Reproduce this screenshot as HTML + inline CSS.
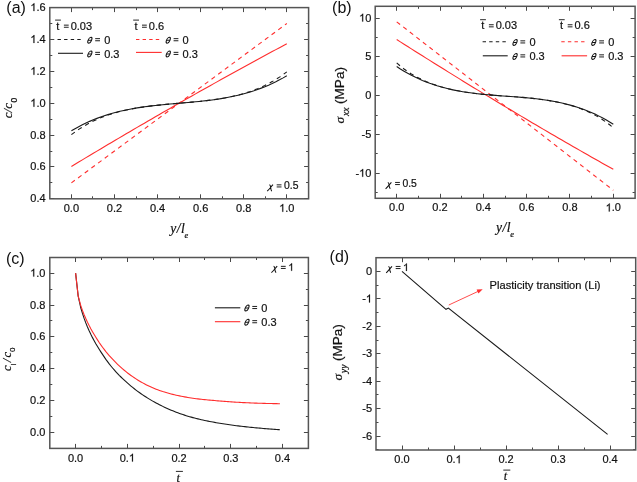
<!DOCTYPE html>
<html><head><meta charset="utf-8"><style>html,body{margin:0;padding:0;background:#fff;overflow:hidden}svg{display:block;will-change:transform}</style></head><body>
<svg width="637" height="482" viewBox="0 0 637 482" font-family='"Liberation Sans", sans-serif' font-size="11" fill="#111" style="font-kerning:none"><style>text{stroke:#111;stroke-width:0.2px}</style>
<rect width="637" height="482" fill="#fff"/>
<path d="M71.50 198.80v-4.5M71.50 7.60v4.5M114.50 198.80v-4.5M114.50 7.60v4.5M157.50 198.80v-4.5M157.50 7.60v4.5M200.50 198.80v-4.5M200.50 7.60v4.5M243.50 198.80v-4.5M243.50 7.60v4.5M286.50 198.80v-4.5M286.50 7.60v4.5M92.50 198.80v-2.5M92.50 7.60v2.5M136.50 198.80v-2.5M136.50 7.60v2.5M179.50 198.80v-2.5M179.50 7.60v2.5M222.50 198.80v-2.5M222.50 7.60v2.5M265.50 198.80v-2.5M265.50 7.60v2.5M49.80 198.50h4.5M308.60 198.50h-4.5M49.80 166.50h4.5M308.60 166.50h-4.5M49.80 135.50h4.5M308.60 135.50h-4.5M49.80 103.50h4.5M308.60 103.50h-4.5M49.80 71.50h4.5M308.60 71.50h-4.5M49.80 39.50h4.5M308.60 39.50h-4.5M49.80 7.50h4.5M308.60 7.50h-4.5M49.80 182.50h2.5M308.60 182.50h-2.5M49.80 151.50h2.5M308.60 151.50h-2.5M49.80 119.50h2.5M308.60 119.50h-2.5M49.80 87.50h2.5M308.60 87.50h-2.5M49.80 55.50h2.5M308.60 55.50h-2.5M49.80 23.50h2.5M308.60 23.50h-2.5" stroke="#484848" stroke-width="1.0" fill="none"/>
<rect x="49.80" y="7.60" width="258.80" height="191.20" stroke="#555" stroke-width="1.5" fill="none"/>
<text x="63.75" y="211.80" font-size="11">0.0</text>
<text x="106.83" y="211.80" font-size="11">0.2</text>
<text x="149.91" y="211.80" font-size="11">0.4</text>
<text x="192.99" y="211.80" font-size="11">0.6</text>
<text x="236.07" y="211.80" font-size="11">0.8</text>
<text x="279.15" y="211.80" font-size="11"> .0</text>
<path transform="translate(279.15,211.80) scale(0.005371,-0.005371)" d="M763 0H583V1147Q518 1085 412 1023Q306 961 222 930V1104Q373 1175 486 1276Q599 1377 646 1472H763Z" stroke="#111" stroke-width="0.2" vector-effect="non-scaling-stroke"/>
<text x="30.31" y="202.30" font-size="11">0.4</text>
<text x="30.31" y="170.43" font-size="11">0.6</text>
<text x="30.31" y="138.57" font-size="11">0.8</text>
<text x="30.31" y="106.70" font-size="11"> .0</text>
<path transform="translate(30.31,106.70) scale(0.005371,-0.005371)" d="M763 0H583V1147Q518 1085 412 1023Q306 961 222 930V1104Q373 1175 486 1276Q599 1377 646 1472H763Z" stroke="#111" stroke-width="0.2" vector-effect="non-scaling-stroke"/>
<text x="30.31" y="74.83" font-size="11"> .2</text>
<path transform="translate(30.31,74.83) scale(0.005371,-0.005371)" d="M763 0H583V1147Q518 1085 412 1023Q306 961 222 930V1104Q373 1175 486 1276Q599 1377 646 1472H763Z" stroke="#111" stroke-width="0.2" vector-effect="non-scaling-stroke"/>
<text x="30.31" y="42.97" font-size="11"> .4</text>
<path transform="translate(30.31,42.97) scale(0.005371,-0.005371)" d="M763 0H583V1147Q518 1085 412 1023Q306 961 222 930V1104Q373 1175 486 1276Q599 1377 646 1472H763Z" stroke="#111" stroke-width="0.2" vector-effect="non-scaling-stroke"/>
<text x="30.31" y="11.10" font-size="11"> .6</text>
<path transform="translate(30.31,11.10) scale(0.005371,-0.005371)" d="M763 0H583V1147Q518 1085 412 1023Q306 961 222 930V1104Q373 1175 486 1276Q599 1377 646 1472H763Z" stroke="#111" stroke-width="0.2" vector-effect="non-scaling-stroke"/>
<polyline points="71.40,182.87 286.80,23.53" stroke="#ff2d2d" stroke-width="1.1" fill="none" stroke-dasharray="4.3 4" stroke-linejoin="round"/>
<polyline points="71.40,166.46 75.05,164.25 78.70,162.05 82.35,159.85 86.00,157.65 89.65,155.46 93.31,153.28 96.96,151.10 100.61,148.92 104.26,146.75 107.91,144.58 111.56,142.42 115.21,140.26 118.86,138.11 122.51,135.96 126.16,133.81 129.81,131.67 133.46,129.54 137.12,127.40 140.77,125.28 144.42,123.15 148.07,121.03 151.72,118.92 155.37,116.81 159.02,114.70 162.67,112.60 166.32,110.50 169.97,108.41 173.62,106.32 177.27,104.24 180.93,102.16 184.58,100.09 188.23,98.02 191.88,95.95 195.53,93.89 199.18,91.83 202.83,89.78 206.48,87.73 210.13,85.68 213.78,83.64 217.43,81.61 221.08,79.58 224.74,77.55 228.39,75.53 232.04,73.51 235.69,71.50 239.34,69.49 242.99,67.48 246.64,65.48 250.29,63.49 253.94,61.49 257.59,59.51 261.24,57.52 264.89,55.55 268.55,53.57 272.20,51.60 275.85,49.64 279.50,47.68 283.15,45.72 286.80,43.77" stroke="#ff2d2d" stroke-width="1.1" fill="none" stroke-linejoin="round"/>
<polyline points="71.40,134.67 75.05,131.94 78.70,129.41 82.35,127.07 86.00,124.91 89.65,122.92 93.31,121.08 96.96,119.39 100.61,117.84 104.26,116.41 107.91,115.10 111.56,113.90 115.21,112.81 118.86,111.80 122.51,110.88 126.16,110.05 129.81,109.28 133.46,108.59 137.12,107.95 140.77,107.36 144.42,106.83 148.07,106.34 151.72,105.89 155.37,105.47 159.02,105.08 162.67,104.72 166.32,104.37 169.97,104.04 173.62,103.73 177.27,103.41 180.93,103.10 184.58,102.79 188.23,102.47 191.88,102.14 195.53,101.80 199.18,101.43 202.83,101.04 206.48,100.63 210.13,100.17 213.78,99.68 217.43,99.15 221.08,98.57 224.74,97.93 228.39,97.23 232.04,96.47 235.69,95.63 239.34,94.71 242.99,93.71 246.64,92.61 250.29,91.41 253.94,90.10 257.59,88.68 261.24,87.12 264.89,85.43 268.55,83.60 272.20,81.60 275.85,79.44 279.50,77.11 283.15,74.58 286.80,71.84" stroke="#1a1a1a" stroke-width="1.1" fill="none" stroke-dasharray="4.3 4" stroke-linejoin="round"/>
<polyline points="71.40,130.76 75.05,128.65 78.70,126.66 82.35,124.78 86.00,123.02 89.65,121.37 93.31,119.83 96.96,118.38 100.61,117.03 104.26,115.78 107.91,114.61 111.56,113.52 115.21,112.52 118.86,111.59 122.51,110.73 126.16,109.94 129.81,109.20 133.46,108.53 137.12,107.91 140.77,107.34 144.42,106.82 148.07,106.33 151.72,105.89 155.37,105.47 159.02,105.08 162.67,104.72 166.32,104.37 169.97,104.04 173.62,103.73 177.27,103.41 180.93,103.10 184.58,102.79 188.23,102.47 191.88,102.14 195.53,101.80 199.18,101.43 202.83,101.04 206.48,100.63 210.13,100.18 213.78,99.70 217.43,99.17 221.08,98.60 224.74,97.98 228.39,97.31 232.04,96.58 235.69,95.79 239.34,94.93 242.99,94.00 246.64,92.99 250.29,91.91 253.94,90.74 257.59,89.48 261.24,88.13 264.89,86.69 268.55,85.14 272.20,83.49 275.85,81.73 279.50,79.85 283.15,77.86 286.80,75.75" stroke="#1a1a1a" stroke-width="1.1" fill="none" stroke-linejoin="round"/>
<text x="56.3" y="29.6">t</text>
<path d="M63.90 25.15h4.8M63.90 27.25h4.8" stroke="#111" stroke-width="0.95"/>
<text x="70.70" y="29.60" font-size="11">0.03</text>
<path d="M55.099999999999994 20.10h5.8" stroke="#111" stroke-width="0.9"/>
<text x="134.4" y="29.6">t</text>
<path d="M142.00 25.15h4.8M142.00 27.25h4.8" stroke="#111" stroke-width="0.95"/>
<text x="148.80" y="29.60" font-size="11">0.6</text>
<path d="M133.20000000000002 20.10h5.8" stroke="#111" stroke-width="0.9"/>
<path d="M57.5 39.5H82" stroke="#1a1a1a" stroke-width="1.1" stroke-dasharray="3.4 3.2"/>
<path d="M58 53.3H83" stroke="#1a1a1a" stroke-width="1.1"/>
<path d="M136 39.5H161" stroke="#ff2d2d" stroke-width="1.1" stroke-dasharray="3.4 3.2"/>
<path d="M136 52.4H161.7" stroke="#ff2d2d" stroke-width="1.1"/>
<g transform="translate(89.85,40.20) skewX(-22)" stroke="#111" fill="none" stroke-width="1.05"><ellipse rx="1.75" ry="3.0"/><path d="M-1.75 0H1.75"/></g>
<path d="M95.20 38.65h4.8M95.20 40.75h4.8" stroke="#111" stroke-width="0.95"/>
<text x="104.20" y="43.80" font-size="11">0</text>
<g transform="translate(89.85,53.90) skewX(-22)" stroke="#111" fill="none" stroke-width="1.05"><ellipse rx="1.75" ry="3.0"/><path d="M-1.75 0H1.75"/></g>
<path d="M95.20 52.35h4.8M95.20 54.45h4.8" stroke="#111" stroke-width="0.95"/>
<text x="104.20" y="57.50" font-size="11">0.3</text>
<g transform="translate(168.25,40.20) skewX(-22)" stroke="#111" fill="none" stroke-width="1.05"><ellipse rx="1.75" ry="3.0"/><path d="M-1.75 0H1.75"/></g>
<path d="M173.60 38.65h4.8M173.60 40.75h4.8" stroke="#111" stroke-width="0.95"/>
<text x="182.60" y="43.80" font-size="11">0</text>
<g transform="translate(168.25,53.90) skewX(-22)" stroke="#111" fill="none" stroke-width="1.05"><ellipse rx="1.75" ry="3.0"/><path d="M-1.75 0H1.75"/></g>
<path d="M173.60 52.35h4.8M173.60 54.45h4.8" stroke="#111" stroke-width="0.95"/>
<text x="182.60" y="57.50" font-size="11">0.3</text>
<path transform="translate(266.80,189.30)" d="M0.4 1.9C2.2 0.3 4.2 -2.4 6.2 -4.6M2.6 -4.4C3.4 -4.5 3.7 -3.2 3.9 -1.6C4.1 0.2 4.3 1.6 5.2 1.7" stroke="#111" fill="none" stroke-width="1.05"/>
<path d="M276.70 184.85h4.8M276.70 186.95h4.8" stroke="#111" stroke-width="0.95"/>
<text x="284.00" y="189.30" font-size="10.4">0.5</text>
<path d="M396.50 198.30v-4.5M396.50 6.30v4.5M440.50 198.30v-4.5M440.50 6.30v4.5M483.50 198.30v-4.5M483.50 6.30v4.5M526.50 198.30v-4.5M526.50 6.30v4.5M569.50 198.30v-4.5M569.50 6.30v4.5M613.50 198.30v-4.5M613.50 6.30v4.5M418.50 198.30v-2.5M418.50 6.30v2.5M461.50 198.30v-2.5M461.50 6.30v2.5M505.50 198.30v-2.5M505.50 6.30v2.5M548.50 198.30v-2.5M548.50 6.30v2.5M591.50 198.30v-2.5M591.50 6.30v2.5M375.20 173.50h4.5M635.10 173.50h-4.5M375.20 134.50h4.5M635.10 134.50h-4.5M375.20 95.50h4.5M635.10 95.50h-4.5M375.20 56.50h4.5M635.10 56.50h-4.5M375.20 18.50h4.5M635.10 18.50h-4.5M375.20 192.50h2.5M635.10 192.50h-2.5M375.20 153.50h2.5M635.10 153.50h-2.5M375.20 115.50h2.5M635.10 115.50h-2.5M375.20 76.50h2.5M635.10 76.50h-2.5M375.20 37.50h2.5M635.10 37.50h-2.5" stroke="#484848" stroke-width="1.0" fill="none"/>
<rect x="375.20" y="6.30" width="259.90" height="192.00" stroke="#555" stroke-width="1.5" fill="none"/>
<text x="389.05" y="211.40" font-size="11">0.0</text>
<text x="432.37" y="211.40" font-size="11">0.2</text>
<text x="475.69" y="211.40" font-size="11">0.4</text>
<text x="519.01" y="211.40" font-size="11">0.6</text>
<text x="562.33" y="211.40" font-size="11">0.8</text>
<text x="605.65" y="211.40" font-size="11"> .0</text>
<path transform="translate(605.65,211.40) scale(0.005371,-0.005371)" d="M763 0H583V1147Q518 1085 412 1023Q306 961 222 930V1104Q373 1175 486 1276Q599 1377 646 1472H763Z" stroke="#111" stroke-width="0.2" vector-effect="non-scaling-stroke"/>
<text x="355.40" y="176.80" font-size="11">- 0</text>
<path transform="translate(359.06,176.80) scale(0.005371,-0.005371)" d="M763 0H583V1147Q518 1085 412 1023Q306 961 222 930V1104Q373 1175 486 1276Q599 1377 646 1472H763Z" stroke="#111" stroke-width="0.2" vector-effect="non-scaling-stroke"/>
<text x="361.52" y="138.00" font-size="11">-5</text>
<text x="365.18" y="99.20" font-size="11">0</text>
<text x="365.18" y="60.40" font-size="11">5</text>
<text x="359.06" y="21.60" font-size="11"> 0</text>
<path transform="translate(359.06,21.60) scale(0.005371,-0.005371)" d="M763 0H583V1147Q518 1085 412 1023Q306 961 222 930V1104Q373 1175 486 1276Q599 1377 646 1472H763Z" stroke="#111" stroke-width="0.2" vector-effect="non-scaling-stroke"/>
<polyline points="396.70,21.82 613.30,190.29" stroke="#ff2d2d" stroke-width="1.1" fill="none" stroke-dasharray="4.3 4" stroke-linejoin="round"/>
<polyline points="396.70,39.49 400.37,41.84 404.04,44.17 407.71,46.51 411.38,48.84 415.06,51.16 418.73,53.48 422.40,55.79 426.07,58.10 429.74,60.40 433.41,62.70 437.08,64.99 440.75,67.28 444.43,69.57 448.10,71.85 451.77,74.12 455.44,76.39 459.11,78.65 462.78,80.91 466.45,83.17 470.12,85.42 473.79,87.66 477.47,89.90 481.14,92.14 484.81,94.37 488.48,96.59 492.15,98.82 495.82,101.03 499.49,103.24 503.16,105.45 506.84,107.65 510.51,109.84 514.18,112.04 517.85,114.22 521.52,116.40 525.19,118.58 528.86,120.75 532.53,122.92 536.21,125.08 539.88,127.24 543.55,129.39 547.22,131.54 550.89,133.68 554.56,135.82 558.23,137.95 561.90,140.08 565.57,142.20 569.25,144.32 572.92,146.43 576.59,148.54 580.26,150.64 583.93,152.74 587.60,154.83 591.27,156.92 594.94,159.01 598.62,161.08 602.29,163.16 605.96,165.23 609.63,167.29 613.30,169.35" stroke="#ff2d2d" stroke-width="1.1" fill="none" stroke-linejoin="round"/>
<polyline points="396.70,62.92 400.37,66.08 404.04,68.95 407.71,71.56 411.38,73.93 415.06,76.09 418.73,78.06 422.40,79.86 426.07,81.50 429.74,82.99 433.41,84.36 437.08,85.60 440.75,86.73 444.43,87.77 448.10,88.71 451.77,89.57 455.44,90.35 459.11,91.05 462.78,91.70 466.45,92.28 470.12,92.81 473.79,93.29 477.47,93.72 481.14,94.12 484.81,94.48 488.48,94.82 492.15,95.13 495.82,95.42 499.49,95.70 503.16,95.97 506.84,96.23 510.51,96.50 514.18,96.77 517.85,97.05 521.52,97.35 525.19,97.67 528.86,98.01 532.53,98.38 536.21,98.79 539.88,99.24 543.55,99.74 547.22,100.28 550.89,100.89 554.56,101.55 558.23,102.28 561.90,103.09 565.57,103.98 569.25,104.96 572.92,106.03 576.59,107.22 580.26,108.51 583.93,109.94 587.60,111.51 591.27,113.23 594.94,115.12 598.62,117.20 602.29,119.48 605.96,122.00 609.63,124.78 613.30,127.84" stroke="#1a1a1a" stroke-width="1.1" fill="none" stroke-dasharray="4.3 4" stroke-linejoin="round"/>
<polyline points="396.70,66.57 400.37,68.94 404.04,71.18 407.71,73.28 411.38,75.25 415.06,77.09 418.73,78.80 422.40,80.41 426.07,81.89 429.74,83.28 433.41,84.56 437.08,85.74 440.75,86.83 444.43,87.83 448.10,88.75 451.77,89.59 455.44,90.36 459.11,91.06 462.78,91.70 466.45,92.28 470.12,92.81 473.79,93.29 477.47,93.72 481.14,94.12 484.81,94.48 488.48,94.82 492.15,95.13 495.82,95.42 499.49,95.70 503.16,95.97 506.84,96.23 510.51,96.50 514.18,96.77 517.85,97.05 521.52,97.35 525.19,97.67 528.86,98.01 532.53,98.38 536.21,98.79 539.88,99.24 543.55,99.74 547.22,100.28 550.89,100.88 554.56,101.54 558.23,102.26 561.90,103.05 565.57,103.92 569.25,104.87 572.92,105.90 576.59,107.02 580.26,108.23 583.93,109.54 587.60,110.96 591.27,112.48 594.94,114.12 598.62,115.88 602.29,117.76 605.96,119.77 609.63,121.92 613.30,124.20" stroke="#1a1a1a" stroke-width="1.1" fill="none" stroke-linejoin="round"/>
<text x="481.3" y="29.2">t</text>
<path d="M488.90 24.75h4.8M488.90 26.85h4.8" stroke="#111" stroke-width="0.95"/>
<text x="495.70" y="29.20" font-size="11">0.03</text>
<path d="M480.1 19.70h5.8" stroke="#111" stroke-width="0.9"/>
<text x="560.1" y="29.2">t</text>
<path d="M567.70 24.75h4.8M567.70 26.85h4.8" stroke="#111" stroke-width="0.95"/>
<text x="574.50" y="29.20" font-size="11">0.6</text>
<path d="M558.9 19.70h5.8" stroke="#111" stroke-width="0.9"/>
<path d="M482.6 41.8H507" stroke="#1a1a1a" stroke-width="1.1" stroke-dasharray="3.4 3.2"/>
<path d="M482.8 55.8H507.7" stroke="#1a1a1a" stroke-width="1.1"/>
<path d="M561.3 41.8H586" stroke="#ff2d2d" stroke-width="1.1" stroke-dasharray="3.4 3.2"/>
<path d="M561.6 55.8H587.1" stroke="#ff2d2d" stroke-width="1.1"/>
<g transform="translate(515.05,42.40) skewX(-22)" stroke="#111" fill="none" stroke-width="1.05"><ellipse rx="1.75" ry="3.0"/><path d="M-1.75 0H1.75"/></g>
<path d="M520.40 40.85h4.8M520.40 42.95h4.8" stroke="#111" stroke-width="0.95"/>
<text x="529.40" y="46.00" font-size="11">0</text>
<g transform="translate(515.05,56.40) skewX(-22)" stroke="#111" fill="none" stroke-width="1.05"><ellipse rx="1.75" ry="3.0"/><path d="M-1.75 0H1.75"/></g>
<path d="M520.40 54.85h4.8M520.40 56.95h4.8" stroke="#111" stroke-width="0.95"/>
<text x="529.40" y="60.00" font-size="11">0.3</text>
<g transform="translate(593.85,42.40) skewX(-22)" stroke="#111" fill="none" stroke-width="1.05"><ellipse rx="1.75" ry="3.0"/><path d="M-1.75 0H1.75"/></g>
<path d="M599.20 40.85h4.8M599.20 42.95h4.8" stroke="#111" stroke-width="0.95"/>
<text x="608.20" y="46.00" font-size="11">0</text>
<g transform="translate(593.85,56.40) skewX(-22)" stroke="#111" fill="none" stroke-width="1.05"><ellipse rx="1.75" ry="3.0"/><path d="M-1.75 0H1.75"/></g>
<path d="M599.20 54.85h4.8M599.20 56.95h4.8" stroke="#111" stroke-width="0.95"/>
<text x="608.20" y="60.00" font-size="11">0.3</text>
<path transform="translate(385.20,186.90)" d="M0.4 1.9C2.2 0.3 4.2 -2.4 6.2 -4.6M2.6 -4.4C3.4 -4.5 3.7 -3.2 3.9 -1.6C4.1 0.2 4.3 1.6 5.2 1.7" stroke="#111" fill="none" stroke-width="1.05"/>
<path d="M395.10 182.45h4.8M395.10 184.55h4.8" stroke="#111" stroke-width="0.95"/>
<text x="402.40" y="186.90" font-size="10.4">0.5</text>
<path d="M75.50 448.40v-4.5M75.50 257.50v4.5M127.50 448.40v-4.5M127.50 257.50v4.5M179.50 448.40v-4.5M179.50 257.50v4.5M230.50 448.40v-4.5M230.50 257.50v4.5M282.50 448.40v-4.5M282.50 257.50v4.5M101.50 448.40v-2.5M101.50 257.50v2.5M153.50 448.40v-2.5M153.50 257.50v2.5M204.50 448.40v-2.5M204.50 257.50v2.5M256.50 448.40v-2.5M256.50 257.50v2.5M49.80 432.50h4.5M308.40 432.50h-4.5M49.80 400.50h4.5M308.40 400.50h-4.5M49.80 368.50h4.5M308.40 368.50h-4.5M49.80 336.50h4.5M308.40 336.50h-4.5M49.80 305.50h4.5M308.40 305.50h-4.5M49.80 273.50h4.5M308.40 273.50h-4.5M49.80 416.50h2.5M308.40 416.50h-2.5M49.80 384.50h2.5M308.40 384.50h-2.5M49.80 352.50h2.5M308.40 352.50h-2.5M49.80 320.50h2.5M308.40 320.50h-2.5M49.80 289.50h2.5M308.40 289.50h-2.5" stroke="#484848" stroke-width="1.0" fill="none"/>
<rect x="49.80" y="257.50" width="258.60" height="190.90" stroke="#555" stroke-width="1.5" fill="none"/>
<text x="67.95" y="461.60" font-size="11">0.0</text>
<text x="119.68" y="461.60" font-size="11">0. </text>
<path transform="translate(128.85,461.60) scale(0.005371,-0.005371)" d="M763 0H583V1147Q518 1085 412 1023Q306 961 222 930V1104Q373 1175 486 1276Q599 1377 646 1472H763Z" stroke="#111" stroke-width="0.2" vector-effect="non-scaling-stroke"/>
<text x="171.40" y="461.60" font-size="11">0.2</text>
<text x="223.13" y="461.60" font-size="11">0.3</text>
<text x="274.85" y="461.60" font-size="11">0.4</text>
<text x="30.11" y="436.20" font-size="11">0.0</text>
<text x="30.11" y="404.28" font-size="11">0.2</text>
<text x="30.11" y="372.36" font-size="11">0.4</text>
<text x="30.11" y="340.44" font-size="11">0.6</text>
<text x="30.11" y="308.52" font-size="11">0.8</text>
<text x="30.11" y="276.60" font-size="11"> .0</text>
<path transform="translate(30.11,276.60) scale(0.005371,-0.005371)" d="M763 0H583V1147Q518 1085 412 1023Q306 961 222 930V1104Q373 1175 486 1276Q599 1377 646 1472H763Z" stroke="#111" stroke-width="0.2" vector-effect="non-scaling-stroke"/>
<polyline points="75.60,273.10 78.19,296.08 80.77,307.78 82.45,313.41 84.12,318.40 85.79,322.90 87.47,327.02 89.14,330.82 90.81,334.35 92.49,337.63 94.16,340.72 95.83,343.67 97.51,346.49 99.18,349.21 100.85,351.83 102.53,354.40 104.20,356.90 105.87,359.33 107.55,361.66 109.22,363.88 110.89,365.99 112.57,368.02 114.24,369.95 115.92,371.81 117.59,373.60 119.26,375.33 120.94,376.99 122.61,378.61 124.28,380.17 125.96,381.69 127.63,383.18 129.30,384.63 130.98,386.06 132.65,387.44 134.32,388.78 136.00,390.08 137.67,391.33 139.34,392.55 141.02,393.74 142.69,394.89 144.36,396.00 146.04,397.08 147.71,398.13 149.38,399.15 151.06,400.15 152.73,401.11 154.40,402.05 156.08,402.96 157.75,403.85 159.42,404.71 161.10,405.55 162.77,406.37 164.45,407.17 166.12,407.94 167.79,408.69 169.47,409.43 171.14,410.14 172.81,410.83 174.49,411.50 176.16,412.15 177.83,412.78 179.51,413.40 181.18,413.99 182.85,414.56 184.53,415.12 186.20,415.66 187.87,416.17 189.55,416.67 191.22,417.15 192.89,417.62 194.57,418.06 196.24,418.49 197.91,418.90 199.59,419.30 201.26,419.69 202.93,420.06 204.61,420.42 206.28,420.77 207.96,421.11 209.63,421.43 211.30,421.75 212.98,422.07 214.65,422.37 216.32,422.67 218.00,422.96 219.67,423.24 221.34,423.52 223.02,423.79 224.69,424.05 226.36,424.31 228.04,424.56 229.71,424.80 231.38,425.03 233.06,425.26 234.73,425.48 236.40,425.69 238.08,425.90 239.75,426.10 241.42,426.30 243.10,426.49 244.77,426.67 246.44,426.85 248.12,427.03 249.79,427.20 251.47,427.37 253.14,427.53 254.81,427.69 256.49,427.85 258.16,428.00 259.83,428.15 261.51,428.30 263.18,428.45 264.85,428.59 266.53,428.73 268.20,428.87 269.87,429.01 271.55,429.14 273.22,429.27 274.89,429.40 276.57,429.52 278.24,429.64 279.91,429.76" stroke="#1a1a1a" stroke-width="1.1" fill="none" stroke-linejoin="round"/>
<polyline points="75.60,273.10 78.19,296.08 80.77,305.57 82.45,310.42 84.12,314.70 85.79,318.59 87.47,322.19 89.14,325.54 90.81,328.70 92.49,331.70 94.16,334.54 95.83,337.26 97.51,339.89 99.18,342.50 100.85,344.93 102.53,347.24 104.20,349.45 105.87,351.57 107.55,353.60 109.22,355.55 110.89,357.43 112.57,359.24 114.24,360.98 115.92,362.66 117.59,364.28 119.26,365.84 120.94,367.37 122.61,368.85 124.28,370.29 125.96,371.67 127.63,373.01 129.30,374.28 130.98,375.50 132.65,376.67 134.32,377.80 136.00,378.90 137.67,379.95 139.34,380.96 141.02,381.94 142.69,382.88 144.36,383.78 146.04,384.65 147.71,385.48 149.38,386.28 151.06,387.05 152.73,387.78 154.40,388.48 156.08,389.15 157.75,389.79 159.42,390.40 161.10,390.98 162.77,391.54 164.45,392.06 166.12,392.57 167.79,393.05 169.47,393.52 171.14,393.96 172.81,394.38 174.49,394.78 176.16,395.17 177.83,395.54 179.51,395.89 181.18,396.23 182.85,396.55 184.53,396.86 186.20,397.16 187.87,397.45 189.55,397.73 191.22,397.99 192.89,398.24 194.57,398.47 196.24,398.69 197.91,398.89 199.59,399.09 201.26,399.28 202.93,399.46 204.61,399.63 206.28,399.79 207.96,399.95 209.63,400.10 211.30,400.26 212.98,400.40 214.65,400.55 216.32,400.70 218.00,400.84 219.67,400.99 221.34,401.13 223.02,401.27 224.69,401.41 226.36,401.53 228.04,401.66 229.71,401.78 231.38,401.89 233.06,402.00 234.73,402.11 236.40,402.21 238.08,402.31 239.75,402.40 241.42,402.49 243.10,402.58 244.77,402.66 246.44,402.74 248.12,402.82 249.79,402.89 251.47,402.96 253.14,403.03 254.81,403.10 256.49,403.16 258.16,403.21 259.83,403.27 261.51,403.32 263.18,403.37 264.85,403.41 266.53,403.46 268.20,403.50 269.87,403.53 271.55,403.57 273.22,403.61 274.89,403.64 276.57,403.67 278.24,403.70 279.91,403.73" stroke="#ff2d2d" stroke-width="1.1" fill="none" stroke-linejoin="round"/>
<path d="M214.9 307.8H240.3" stroke="#1a1a1a" stroke-width="1.1"/>
<path d="M214.9 321.7H240.3" stroke="#ff2d2d" stroke-width="1.1"/>
<g transform="translate(246.95,308.00) skewX(-22)" stroke="#111" fill="none" stroke-width="1.05"><ellipse rx="1.75" ry="3.0"/><path d="M-1.75 0H1.75"/></g>
<path d="M252.30 306.45h4.8M252.30 308.55h4.8" stroke="#111" stroke-width="0.95"/>
<text x="261.30" y="311.60" font-size="11">0</text>
<g transform="translate(246.95,322.20) skewX(-22)" stroke="#111" fill="none" stroke-width="1.05"><ellipse rx="1.75" ry="3.0"/><path d="M-1.75 0H1.75"/></g>
<path d="M252.30 320.65h4.8M252.30 322.75h4.8" stroke="#111" stroke-width="0.95"/>
<text x="261.30" y="325.80" font-size="11">0.3</text>
<path transform="translate(271.00,270.80)" d="M0.4 1.9C2.2 0.3 4.2 -2.4 6.2 -4.6M2.6 -4.4C3.4 -4.5 3.7 -3.2 3.9 -1.6C4.1 0.2 4.3 1.6 5.2 1.7" stroke="#111" fill="none" stroke-width="1.05"/>
<path d="M280.90 266.35h4.8M280.90 268.45h4.8" stroke="#111" stroke-width="0.95"/>
<text x="288.20" y="270.80" font-size="10.4"> </text>
<path transform="translate(288.20,270.80) scale(0.005078,-0.005078)" d="M763 0H583V1147Q518 1085 412 1023Q306 961 222 930V1104Q373 1175 486 1276Q599 1377 646 1472H763Z" stroke="#111" stroke-width="0.2" vector-effect="non-scaling-stroke"/>
<path d="M402.50 450.00v-4.5M402.50 257.70v4.5M454.50 450.00v-4.5M454.50 257.70v4.5M506.50 450.00v-4.5M506.50 257.70v4.5M558.50 450.00v-4.5M558.50 257.70v4.5M610.50 450.00v-4.5M610.50 257.70v4.5M428.50 450.00v-2.5M428.50 257.70v2.5M480.50 450.00v-2.5M480.50 257.70v2.5M532.50 450.00v-2.5M532.50 257.70v2.5M584.50 450.00v-2.5M584.50 257.70v2.5M376.00 436.50h4.5M635.70 436.50h-4.5M376.00 408.50h4.5M635.70 408.50h-4.5M376.00 381.50h4.5M635.70 381.50h-4.5M376.00 353.50h4.5M635.70 353.50h-4.5M376.00 326.50h4.5M635.70 326.50h-4.5M376.00 298.50h4.5M635.70 298.50h-4.5M376.00 271.50h4.5M635.70 271.50h-4.5M376.00 449.50h2.5M635.70 449.50h-2.5M376.00 422.50h2.5M635.70 422.50h-2.5M376.00 394.50h2.5M635.70 394.50h-2.5M376.00 367.50h2.5M635.70 367.50h-2.5M376.00 340.50h2.5M635.70 340.50h-2.5M376.00 312.50h2.5M635.70 312.50h-2.5M376.00 285.50h2.5M635.70 285.50h-2.5" stroke="#484848" stroke-width="1.0" fill="none"/>
<rect x="376.00" y="257.70" width="259.70" height="192.30" stroke="#555" stroke-width="1.5" fill="none"/>
<text x="394.35" y="463.20" font-size="11">0.0</text>
<text x="446.38" y="463.20" font-size="11">0. </text>
<path transform="translate(455.55,463.20) scale(0.005371,-0.005371)" d="M763 0H583V1147Q518 1085 412 1023Q306 961 222 930V1104Q373 1175 486 1276Q599 1377 646 1472H763Z" stroke="#111" stroke-width="0.2" vector-effect="non-scaling-stroke"/>
<text x="498.40" y="463.20" font-size="11">0.2</text>
<text x="550.43" y="463.20" font-size="11">0.3</text>
<text x="602.45" y="463.20" font-size="11">0.4</text>
<text x="362.22" y="439.60" font-size="11">-6</text>
<text x="362.22" y="412.17" font-size="11">-5</text>
<text x="362.22" y="384.73" font-size="11">-4</text>
<text x="362.22" y="357.30" font-size="11">-3</text>
<text x="362.22" y="329.87" font-size="11">-2</text>
<text x="362.22" y="302.43" font-size="11">- </text>
<path transform="translate(365.88,302.43) scale(0.005371,-0.005371)" d="M763 0H583V1147Q518 1085 412 1023Q306 961 222 930V1104Q373 1175 486 1276Q599 1377 646 1472H763Z" stroke="#111" stroke-width="0.2" vector-effect="non-scaling-stroke"/>
<text x="365.88" y="275.00" font-size="11">0</text>
<polyline points="402,271.4 446,309.3 448.4,308.1 607.6,434.4" stroke="#1a1a1a" stroke-width="1.1" fill="none"/>
<path d="M448.8 305L478.5 291.2" stroke="#ff2d2d" stroke-width="0.85"/>
<path d="M482.7 289.2L476.6 289.5L478.4 293.4Z" fill="#ff2d2d"/>
<text x="489.6" y="289.3" font-size="11.1">Plasticity transition (Li)</text>
<path transform="translate(385.80,270.90)" d="M0.4 1.9C2.2 0.3 4.2 -2.4 6.2 -4.6M2.6 -4.4C3.4 -4.5 3.7 -3.2 3.9 -1.6C4.1 0.2 4.3 1.6 5.2 1.7" stroke="#111" fill="none" stroke-width="1.05"/>
<path d="M395.70 266.45h4.8M395.70 268.55h4.8" stroke="#111" stroke-width="0.95"/>
<text x="403.00" y="270.90" font-size="10.4"> </text>
<path transform="translate(403.00,270.90) scale(0.005078,-0.005078)" d="M763 0H583V1147Q518 1085 412 1023Q306 961 222 930V1104Q373 1175 486 1276Q599 1377 646 1472H763Z" stroke="#111" stroke-width="0.2" vector-effect="non-scaling-stroke"/>
<text x="6.3" y="12.8" font-size="16" style="stroke-width:0">(a)</text>
<text x="332.1" y="13.2" font-size="16" style="stroke-width:0">(b)</text>
<text x="6.0" y="264.0" font-size="16" style="stroke-width:0">(c)</text>
<text x="329.6" y="262" font-size="16" style="stroke-width:0">(d)</text>
<g font-family='"Liberation Serif", serif' font-style="italic" font-size="13.6"><text x="170.2" y="232.6">y</text><text x="176.80" y="232.6">/</text><text x="180.90" y="232.6">l</text></g>
<text x="184.39999999999998" y="237.6" font-family='"Liberation Serif", serif' font-style="italic" font-size="8.5">e</text>
<g font-family='"Liberation Serif", serif' font-style="italic" font-size="13.6"><text x="496.0" y="231.9">y</text><text x="502.60" y="231.9">/</text><text x="506.70" y="231.9">l</text></g>
<text x="510.2" y="236.9" font-family='"Liberation Serif", serif' font-style="italic" font-size="8.5">e</text>
<text x="176.4" y="481.8" font-family='"Liberation Serif", serif' font-style="italic" font-size="12.5">t</text>
<path d="M175.9 471.4h7" stroke="#111" stroke-width="0.9"/>
<text x="503.8" y="480.2" font-family='"Liberation Serif", serif' font-style="italic" font-size="12.5">t</text>
<path d="M503.3 470.1h7" stroke="#111" stroke-width="0.9"/>
<g transform="translate(12.3,118.2) rotate(-90)"><text x="0" y="0" font-family='"Liberation Serif", serif' font-style="italic" font-size="13">c/c</text><text x="15.6" y="4.7" font-size="8.5">0</text></g>
<g transform="translate(11.0,371) rotate(-90)"><text x="0" y="0" font-family='"Liberation Serif", serif' font-style="italic" font-size="12.5">c</text><text x="5.6" y="4.8" font-size="8">l</text><text x="8.8" y="0" font-family='"Liberation Serif", serif' font-style="italic" font-size="12.5">/</text><text x="13.5" y="0" font-family='"Liberation Serif", serif' font-style="italic" font-size="12.5">c</text><text x="19.1" y="4.0" font-size="8">0</text></g>
<g transform="translate(343.6,123.4) rotate(-90)"><text x="0" y="0" font-family='"Liberation Serif", serif' font-style="italic" font-size="13.5">σ</text><text x="7.3" y="5.2" font-family='"Liberation Serif", serif' font-style="italic" font-size="9.8">xx</text><text x="19.4" y="0" font-size="13.6">(MPa)</text></g>
<g transform="translate(342.0,380.5) rotate(-90)"><text x="0" y="0" font-family='"Liberation Serif", serif' font-style="italic" font-size="13.5">σ</text><text x="7.3" y="5.2" font-family='"Liberation Serif", serif' font-style="italic" font-size="9.8">yy</text><text x="19.4" y="0" font-size="13.6">(MPa)</text></g>
</svg>
</body></html>
